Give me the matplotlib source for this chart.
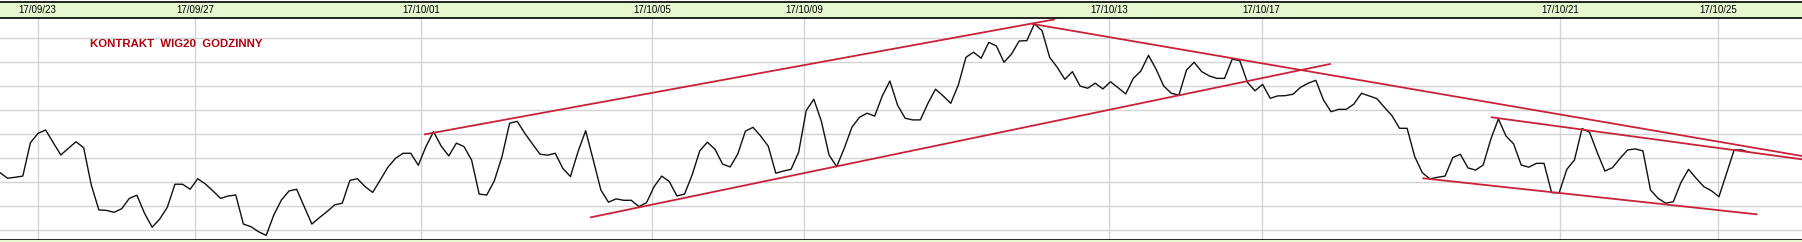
import matplotlib
matplotlib.use("Agg")
import matplotlib.pyplot as plt
import numpy as np

# ---- data -------------------------------------------------------------
prices = [
    2484.0, 2481.7, 2482.1, 2482.6, 2496.5, 2500.4, 2501.8, 2496.5, 2491.4, 2494.2,
    2496.9, 2494.4, 2478.9, 2468.5, 2468.3, 2467.5, 2469.0, 2473.3, 2474.6, 2467.1,
    2461.3, 2464.7, 2469.6, 2479.2, 2479.2, 2477.1, 2481.5, 2479.3, 2476.4, 2473.3,
    2474.3, 2474.7, 2462.6, 2461.5, 2459.4, 2457.9, 2466.4, 2472.6, 2476.4, 2477.1,
    2469.9, 2462.6, 2465.3, 2467.8, 2470.6, 2471.3, 2480.8, 2481.5, 2478.2, 2475.8,
    2481.0, 2486.3, 2490.0, 2492.1, 2492.1, 2487.1, 2494.9, 2501.1, 2495.1, 2491.0,
    2496.3, 2494.9, 2489.3, 2475.1, 2474.7, 2480.7, 2490.7, 2504.6, 2505.4, 2500.4,
    2496.0, 2491.7, 2491.3, 2492.1, 2485.8, 2482.4, 2492.8, 2501.5, 2489.3, 2476.8,
    2471.7, 2473.1, 2472.5, 2472.5, 2469.9, 2471.5, 2478.2, 2482.6, 2480.3, 2474.3,
    2475.1, 2483.1, 2493.1, 2496.7, 2493.8, 2487.6, 2486.4, 2491.8, 2501.3, 2502.9,
    2499.3, 2495.1, 2483.8, 2484.7, 2485.4, 2492.5, 2509.9, 2514.6, 2505.3, 2491.4,
    2486.5, 2494.2, 2502.9, 2507.1, 2508.8, 2507.6, 2516.0, 2522.2, 2512.2, 2506.7,
    2506.0, 2506.0, 2512.9, 2518.8, 2516.0, 2512.9, 2520.6, 2532.1, 2534.2, 2531.7,
    2538.3, 2536.8, 2530.0, 2533.5, 2538.9, 2539.0, 2546.0, 2543.2, 2532.1, 2527.9,
    2522.9, 2526.1, 2520.1, 2519.2, 2521.3, 2518.9, 2521.9, 2519.4, 2516.8, 2523.3,
    2526.4, 2532.9, 2527.1, 2520.1, 2517.1, 2516.3, 2526.8, 2530.0, 2526.1, 2524.3,
    2523.3, 2523.3, 2531.3, 2530.7, 2521.7, 2518.1, 2520.8, 2515.0, 2516.0, 2516.1,
    2516.7, 2519.6, 2521.3, 2522.5, 2514.3, 2509.4, 2510.4, 2510.4, 2512.6, 2517.1,
    2516.0, 2514.9, 2511.3, 2507.8, 2502.5, 2502.5, 2490.7, 2484.0, 2481.4, 2482.1,
    2482.6, 2490.3, 2491.7, 2486.0, 2485.1, 2487.2, 2497.9, 2506.4, 2499.3, 2496.0,
    2487.2, 2486.3, 2487.9, 2487.9, 2475.7, 2475.7, 2485.4, 2489.3, 2502.4, 2500.8,
    2492.4, 2484.7, 2486.1, 2490.0, 2493.5, 2493.9, 2493.1, 2476.8, 2473.3, 2471.3,
    2471.9, 2479.9, 2485.4, 2481.7, 2478.2, 2476.5, 2474.0, 2483.8, 2493.5, 2493.5,
    2492.5,
]

tick_positions = [4.96, 25.64, 55.31, 85.76, 105.75, 145.85, 165.88, 205.10, 225.92]
tick_labels = ["17/09/23", "17/09/27", "17/10/01", "17/10/05", "17/10/09",
               "17/10/13", "17/10/17", "17/10/21", "17/10/25"]

price_levels = [2460, 2470, 2480, 2490, 2500, 2510, 2520, 2530, 2540]

# trend lines: (x0, y0, x1, y1) in bar index / price units
trend_rise_upper = (55.88, 2500.0, 138.57, 2547.83)
trend_rise_lower = (77.70, 2465.42, 174.86, 2529.29)
trend_fall_long = (135.78, 2545.96, 236.92, 2490.96)
trend_wedge_upper = (196.12, 2507.08, 236.92, 2489.58)
trend_wedge_lower = (187.13, 2481.67, 230.96, 2466.67)
trend_lines = [trend_rise_upper, trend_rise_lower, trend_fall_long,
               trend_wedge_upper, trend_wedge_lower]

title_text = "KONTRAKT  WIG20  GODZINNY"

# ---- figure -----------------------------------------------------------
W, H = 1802, 242
fig = plt.figure(figsize=(W / 100, H / 100), dpi=100)
fig.patch.set_facecolor("white")

green = "#e6f8cf"
grid_col = "#d4d4d4"

y_head_top, y_head_bot, y_plot_bot = 2.3, 18.3, 239.5
ax = fig.add_axes([0, 1 - y_plot_bot / H, 1, (y_plot_bot - y_head_bot) / H])
hx = fig.add_axes([0, 1 - y_head_bot / H, 1, (y_head_bot - y_head_top) / H])
bx = fig.add_axes([0, 0, 1, 1 - y_plot_bot / H])

x = np.arange(len(prices))
xmax = W / 7.606

ax.set_xlim(0, xmax)
ax.set_ylim(2456.17, 2548.33)
for lv in price_levels:
    ax.axhline(lv, color=grid_col, lw=1.0, zorder=1)
for tp in tick_positions:
    ax.axvline(tp, color=grid_col, lw=1.0, zorder=1)

ax.plot(x, prices, color="#111111", lw=1.0, zorder=3)
for (x0, y0, x1, y1) in trend_lines:
    ax.plot([x0, x1], [y0, y1], color="#c9223c", lw=1.3, zorder=4)

ax.text(90 / 7.606, 2460 + (230.3 - 44.3) / 2.4, title_text, color="#b0000f",
        fontsize=8.2, fontweight="bold", family="Liberation Sans",
        ha="left", va="center", zorder=5)

ax.set_xticks([])
ax.set_yticks([])
for s in ["left", "right", "top"]:
    ax.spines[s].set_visible(False)
ax.spines["bottom"].set_color("black")
ax.spines["bottom"].set_linewidth(1.2)

# header bar with date labels
hx.set_facecolor(green)
hx.set_xlim(0, xmax)
hx.set_ylim(0, 1)
hx.set_xticks([])
hx.set_yticks([])
for s in ["left", "right"]:
    hx.spines[s].set_visible(False)
for s in ["top", "bottom"]:
    hx.spines[s].set_color("black")
    hx.spines[s].set_linewidth(1.2)
for tp, tl in zip(tick_positions, tick_labels):
    hx.text(tp, 0.5, tl, ha="center", va="center", fontsize=7,
            family="Liberation Sans", color="black")

# bottom strip
bx.set_facecolor(green)
bx.set_xticks([])
bx.set_yticks([])
for s in bx.spines.values():
    s.set_visible(False)

fig.savefig("out.png", dpi=100, facecolor="white")
